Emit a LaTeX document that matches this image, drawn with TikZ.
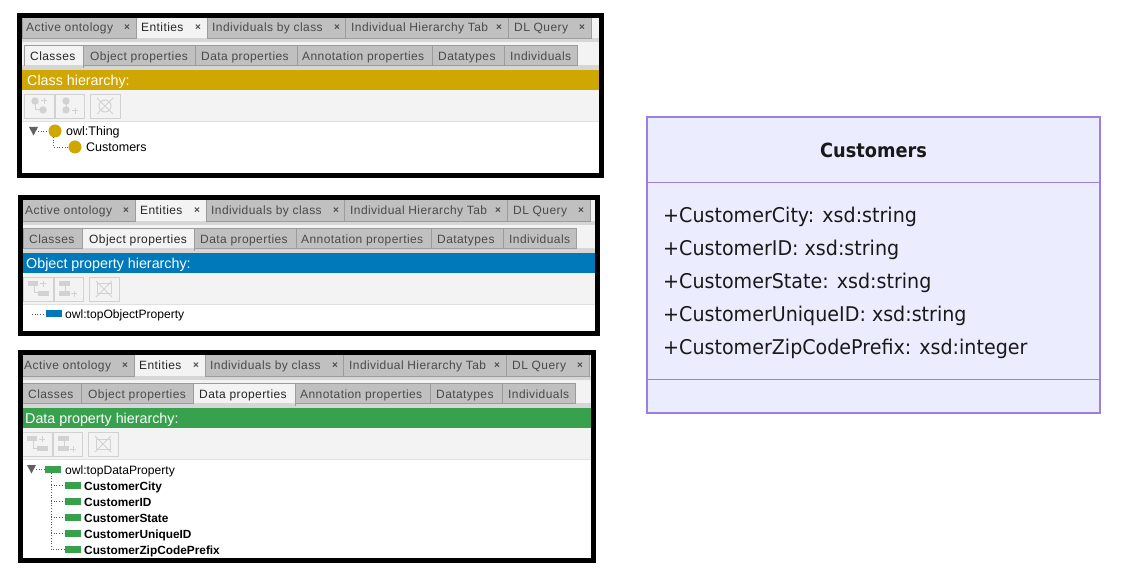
\documentclass[tikz,border=0pt]{standalone}
\usepackage{fontspec}
\setmainfont{Liberation Sans}
\newfontfamily\tabfont[LetterSpace=3.5]{Liberation Sans}
\newfontfamily\umlfont[FakeStretch=0.94]{DejaVu Sans}
\newfontfamily\umlboldfont[FakeStretch=0.91]{DejaVu Sans Bold}
\definecolor{classgold}{HTML}{CFA700}
\definecolor{objblue}{HTML}{0079BA}
\definecolor{datagreen}{HTML}{38A14E}
\definecolor{tabgray}{HTML}{C0C0C0}
\definecolor{tabedge}{HTML}{9C9C9C}
\definecolor{tabband}{HTML}{D6D6D6}
\definecolor{panelbg}{HTML}{F3F3F3}
\definecolor{tabtext}{HTML}{4A4A4A}
\definecolor{iconbg}{HTML}{D2D2D2}
\definecolor{umlfill}{HTML}{ECECFF}
\definecolor{umledge}{HTML}{9C7FE2}
\tikzset{
  tabshape/.style={fill=tabgray,draw=tabedge,line width=.8pt},
  acttabfill/.style={fill=panelbg,draw=none},
  acttabedge/.style={draw=tabedge,line width=.8pt},
  tablabel/.style={anchor=base west,inner sep=0pt,text=tabtext,font=\tabfont\fontsize{12}{14}\selectfont},
  acttablabel/.style={tablabel,text=black!85},
  closelabel/.style={anchor=center,inner sep=0pt,text=tabtext,font=\bfseries\fontsize{10}{10}\selectfont},
  barlabel/.style={anchor=base west,inner sep=0pt,text=white,font=\fontsize{14.3}{16}\selectfont},
  treelabel/.style={anchor=base west,inner sep=0pt,text=black,font=\fontsize{12.1}{14}\selectfont},
  treelabelbig/.style={treelabel,font=\fontsize{12.5}{14}\selectfont},
  treebold/.style={anchor=base west,inner sep=0pt,text=black,font=\bfseries\fontsize{11.85}{14}\selectfont},
  toolbtn/.style={draw=black!18,line width=.8pt,fill=panelbg},
  ticon/.style={fill=iconbg,draw=none},
  tline/.style={draw=iconbg,line width=1pt},
  treelink/.style={draw=black!65,line width=.7pt,dotted},
  classdot/.style={circle,fill=classgold,draw=none,minimum size=13pt,inner sep=0pt},
  objchip/.style={rectangle,fill=objblue,draw=none,minimum width=16pt,minimum height=7pt,inner sep=0pt},
  datachip/.style={rectangle,fill=datagreen,draw=none,minimum width=16pt,minimum height=7pt,inner sep=0pt},
  expander/.style={fill=black!62,draw=none},
  frameline/.style={draw=black,line width=5pt},
  umlbox/.style={fill=umlfill,draw=umledge,line width=1.8pt},
  umlrow/.style={anchor=base west,inner sep=0pt,text=black!90,font=\umlfont\fontsize{20.3}{24}\selectfont},
  umltitle/.style={anchor=base,inner sep=0pt,text=black!90,font=\umlboldfont\fontsize{19.5}{24}\selectfont}
}
\newcommand{\toptab}[6]{%
  \ifnum#6=1
    \fill[acttabfill] (#1,16) rectangle (#2,38);
    \path[acttabedge] (#1,38) -- (#1,16) (#2,16) -- (#2,38);
    \node[acttablabel] (tt#1) at (#4,31.5) {#3};
  \else
    \path[tabshape] (#1,16) rectangle (#2,38);
    \node[tablabel] (tt#1) at (#4,31.5) {#3};
  \fi
  \node[closelabel] (tc#1) at (#5,27.5) {×};
}
\newcommand{\subtab}[5]{%
  \ifnum#5=1
    \fill[acttabfill] (#1,45) rectangle (#2,65);
    \path[acttabedge] (#1,66) -- (#1,45) -- (#2,45) -- (#2,68);
    \node[acttablabel] (st#1) at (#4,60.5) {#3};
  \else
    \path[tabshape] (#1,45) rectangle (#2,65);
    \node[tablabel] (st#1) at (#4,60.5) {#3};
  \fi
}
\newcommand{\toolicons}[1]{%
  \path[toolbtn] (24,94) rectangle (54,118);
  \path[toolbtn] (55,94) rectangle (84,118);
  \path[toolbtn] (90,94) rectangle (120,118);
  \path[tline] (35,101) |- (43,110);
  \path[tline] (66,101) -- (66,110);
  \path[tline] (41,101) -- (47,101) (44,98) -- (44,104);
  \path[tline] (72,111) -- (78,111) (75,108) -- (75,114);
  \ifnum#1=0
    \fill[ticon] (35,101) circle (3.7);
    \fill[ticon] (43,110) circle (3.7);
    \fill[ticon] (66,101) circle (3.7);
    \fill[ticon] (66,110) circle (3.7);
    \path[tline] (105,106) circle (6);
  \else
    \fill[ticon] (29,98) rectangle (39,103);
    \fill[ticon] (39,108) rectangle (50,113);
    \fill[ticon] (60,98) rectangle (71,103);
    \fill[ticon] (60,108) rectangle (71,113);
    \path[tline] (98,101) rectangle (112,111);
  \fi
  \path[tline] (97,98) -- (113,114) (113,98) -- (97,114);
}
% before each call: \frameleft = local x of the frame's inner edge, \frametop = local y of it
% #1 dx, #2 dy, #3 inner right, #4 inner bottom, #5 bar colour, #6 bar text, #7 active subtab, #8 icon mode, #9 tree
\newcommand{\ontpanel}[9]{%
  \begin{scope}[shift={(#1,#2)}]
    \begin{scope}
      \clip (\frameleft,\frametop) rectangle (#3,#4);
      \fill[white] (18,10) rectangle (#3,#4);
      \fill[panelbg] (18,10) rectangle (#3,121);
      \fill[tabband] (18,38) rectangle (#3,42);
      \fill[tabband] (18,65) rectangle (#3,70);
      \toptab{22}{136}{Active ontology}{26}{127}{0}
      \toptab{207}{345}{Individuals by class}{212}{337}{0}
      \toptab{345}{508}{Individual Hierarchy Tab}{351}{499}{0}
      \toptab{508}{591}{DL Query}{514}{582}{0}
      \toptab{136}{207}{Entities}{141}{198}{1}
      \subtab{24}{83}{Classes}{30}{\ifnum#7=1 1\else 0\fi}
      \subtab{83}{195}{Object properties}{90}{\ifnum#7=2 1\else 0\fi}
      \subtab{195}{297}{Data properties}{201}{\ifnum#7=3 1\else 0\fi}
      \subtab{297}{432}{Annotation properties}{302}{0}
      \subtab{432}{504}{Datatypes}{438}{0}
      \subtab{504}{577}{Individuals}{510}{0}
      \fill[#5] (18,70) rectangle (#3,90);
      \node[barlabel] (bar) at (27,85.4) {#6};
      \toolicons{#8}
      \path[draw=black!12,line width=.8pt] (18,121) -- (#3,121);
      #9
    \end{scope}
    \path[frameline] (\frameleft-2.5,\frametop-2.5) rectangle (#3+2.5,#4+2.5);
  \end{scope}
}
\begin{document}
\begin{tikzpicture}[x=1pt,y=-1pt]
\useasboundingbox (0,0) rectangle (1136,585);
\fill[white] (0,0) rectangle (1136,585);
% Classes panel
\def\frameleft{22}\def\frametop{18}
\ontpanel{0}{0}{599}{173.5}{classgold}{Class hierarchy:}{1}{0}{%
  \fill[expander] (29,127) -- (38,127) -- (33.5,135.5) -- cycle;
  \coordinate (cx) at (38,131);
  \node[classdot] (thing) at (55,131) {};
  \node[treelabelbig] (thingl) at (66,135.5) {owl:Thing};
  \node[classdot] (cust) at (75,147) {};
  \node[treelabelbig] (custl) at (86,151.5) {Customers};
  \path[treelink] (cx) -- (thing);
  \coordinate (cb) at (53,137);
  \path[treelink] (cb) |- (cust);
}
% Object property panel
\def\frameleft{24}\def\frametop{17}
\ontpanel{-1}{183}{596}{148}{objblue}{Object property hierarchy:}{2}{1}{%
  \coordinate (ox) at (33,131);
  \node[objchip] (topo) at (55,131) {};
  \node[treelabel] (topol) at (66,135.8) {owl:topObjectProperty};
  \path[treelink] (ox) -- (topo);
}
% Data property panel
\def\frameleft{25}\def\frametop{17}
\ontpanel{-2}{338}{593}{220}{datagreen}{Data property hierarchy:}{3}{1}{%
  \fill[expander] (29,127) -- (38,127) -- (33.5,135.5) -- cycle;
  \coordinate (dx) at (38,131);
  \node[datachip] (topd) at (55,131) {};
  \node[treelabel] (topdl) at (67,136) {owl:topDataProperty};
  \path[treelink] (dx) -- (topd);
  \coordinate (db) at (53,135);
  \node[datachip] (d1) at (75,147.5) {};
  \node[datachip] (d2) at (75,163.5) {};
  \node[datachip] (d3) at (75,179.5) {};
  \node[datachip] (d4) at (75,195.5) {};
  \node[datachip] (d5) at (75,211.5) {};
  \node[treebold] (d1l) at (86,152.2) {CustomerCity};
  \node[treebold] (d2l) at (86,168.2) {CustomerID};
  \node[treebold] (d3l) at (86,184.2) {CustomerState};
  \node[treebold] (d4l) at (86,200.2) {CustomerUniqueID};
  \node[treebold] (d5l) at (86,216.2) {CustomerZipCodePrefix};
  \path[treelink] (db) |- (d5);
  \path[treelink] (db |- d1) -- (d1);
  \path[treelink] (db |- d2) -- (d2);
  \path[treelink] (db |- d3) -- (d3);
  \path[treelink] (db |- d4) -- (d4);
}
% UML class box
\path[umlbox] (646.7,117.3) rectangle (1100,413);
\path[draw=umledge,line width=1pt] (646.7,183) -- (1100,183);
\path[draw=umledge,line width=1pt] (646.7,380) -- (1100,380);
\node[umltitle] (ctitle) at (873.5,157.5) {Customers};
\node[umlrow] (r1) at (663,223) {+CustomerCity: xsd:string};
\node[umlrow] (r2) at (663,256) {+CustomerID: xsd:string};
\node[umlrow] (r3) at (663,289) {+CustomerState: xsd:string};
\node[umlrow] (r4) at (663,322) {+CustomerUniqueID: xsd:string};
\node[umlrow] (r5) at (663,355) {+CustomerZipCodePrefix: xsd:integer};
\end{tikzpicture}
\end{document}
